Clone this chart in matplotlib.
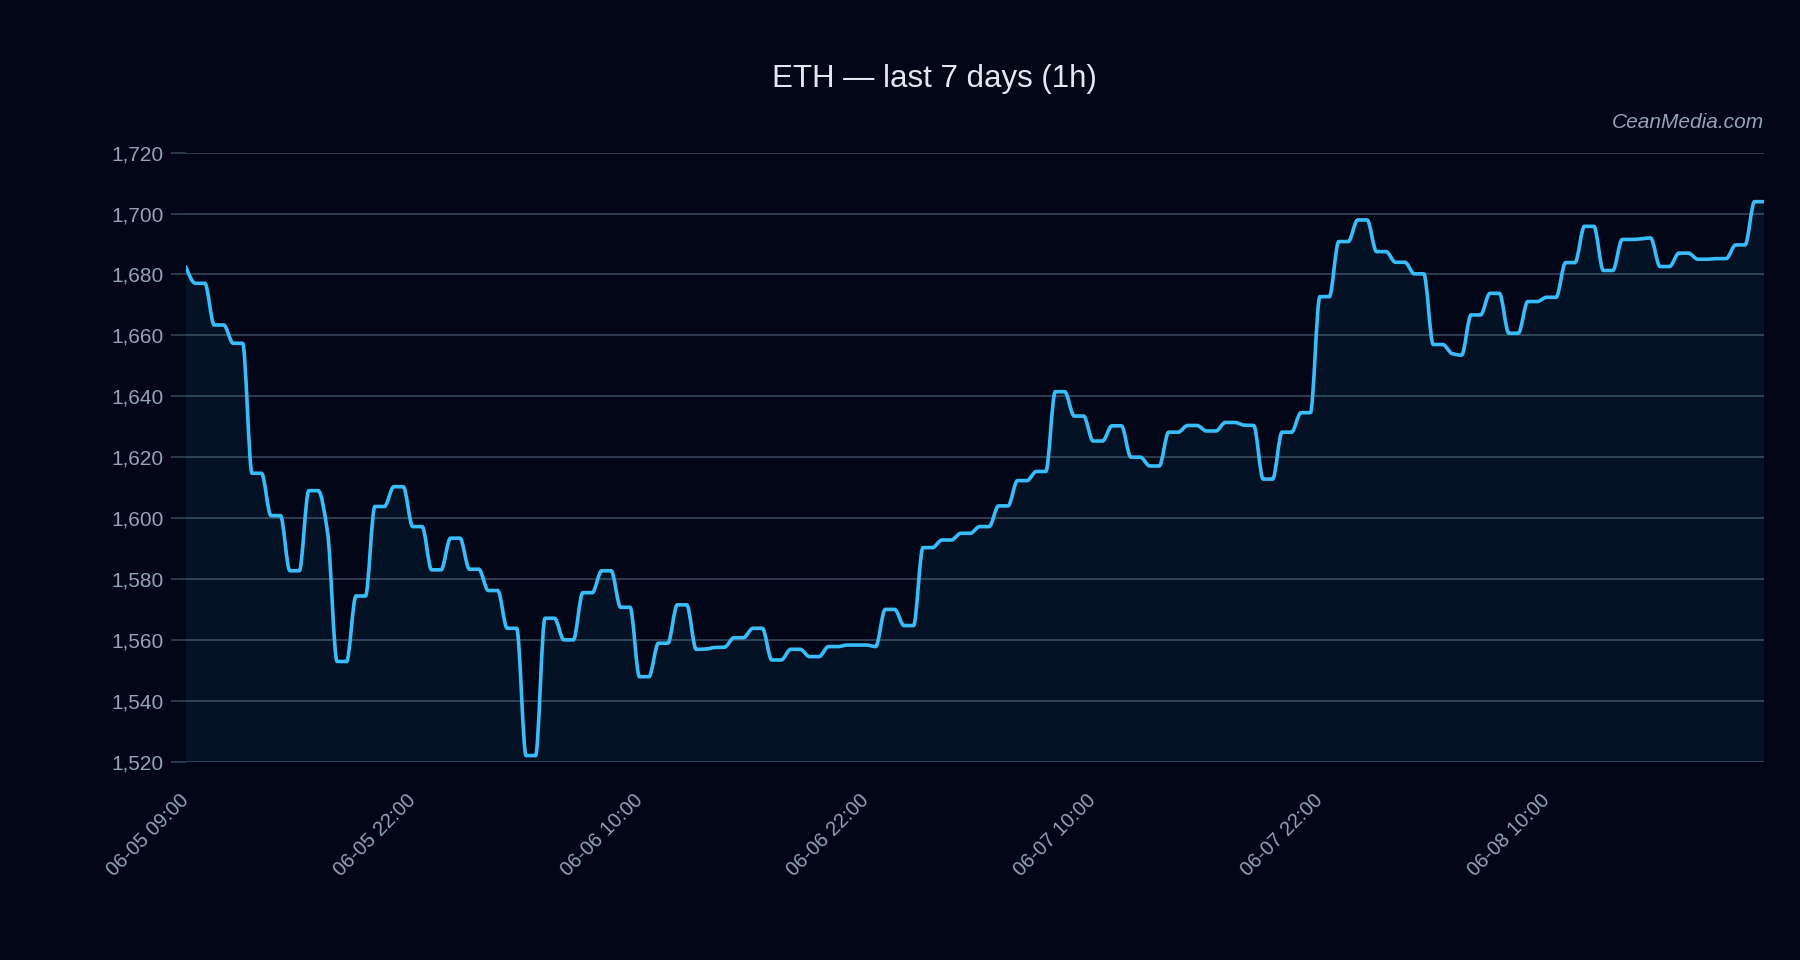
"""
ETH price, last 7 days (1h), dark theme line chart with soft area fill.
"""

import numpy as np
import matplotlib
matplotlib.use("Agg")
import matplotlib.pyplot as plt
from matplotlib.path import Path
from matplotlib.patches import PathPatch
from matplotlib.ticker import FuncFormatter

# --- data ----------------------------------------------------------------
prices = [
    1682.5, 1677.1, 1677.1, 1663.4, 1663.4, 1657.4, 1657.4, 1614.7, 1614.7, 1600.8,
    1600.8, 1582.7, 1582.7, 1609.0, 1609.0, 1595.0, 1552.9, 1552.9, 1574.4, 1574.4,
    1603.8, 1603.8, 1610.3, 1610.3, 1597.2, 1597.2, 1583.0, 1583.0, 1593.4, 1593.4,
    1583.2, 1583.2, 1576.2, 1576.2, 1563.8, 1563.8, 1522.0, 1522.0, 1567.1, 1567.1,
    1560.0, 1560.0, 1575.5, 1575.5, 1582.7, 1582.7, 1570.7, 1570.7, 1547.9, 1547.9,
    1558.9, 1558.9, 1571.5, 1571.5, 1556.9, 1557.0, 1557.5, 1557.6, 1560.7, 1560.7,
    1563.8, 1563.8, 1553.4, 1553.4, 1556.9, 1556.9, 1554.5, 1554.5, 1557.8, 1557.8,
    1558.3, 1558.3, 1558.3, 1557.8, 1570.0, 1570.0, 1564.7, 1564.7, 1590.3, 1590.3,
    1592.8, 1592.8, 1595.0, 1595.0, 1597.2, 1597.2, 1604.0, 1604.0, 1612.3, 1612.3,
    1615.3, 1615.3, 1641.5, 1641.5, 1633.5, 1633.5, 1625.3, 1625.3, 1630.3, 1630.3,
    1620.0, 1620.0, 1617.1, 1617.1, 1628.2, 1628.2, 1630.4, 1630.4, 1628.6, 1628.6,
    1631.4, 1631.4, 1630.5, 1630.4, 1612.8, 1612.8, 1628.2, 1628.2, 1634.6, 1634.6,
    1672.7, 1672.7, 1690.8, 1690.8, 1697.9, 1697.9, 1687.5, 1687.5, 1684.0, 1684.0,
    1680.2, 1680.2, 1657.0, 1657.0, 1654.0, 1653.5, 1666.7, 1666.7, 1673.8, 1673.8,
    1660.7, 1660.7, 1671.1, 1671.1, 1672.5, 1672.5, 1683.9, 1683.9, 1695.8, 1695.8,
    1681.3, 1681.3, 1691.5, 1691.5, 1691.7, 1692.0, 1682.6, 1682.6, 1687.0, 1687.0,
    1685.0, 1685.0, 1685.2, 1685.2, 1689.7, 1689.7, 1703.9, 1703.9,
]
tick_labels = [
    "06-05 09:00", "06-05 22:00", "06-06 10:00", "06-06 22:00",
    "06-07 10:00", "06-07 22:00", "06-08 10:00",
]
tick_every = 24
y_ticks = list(range(1520, 1721, 20))

title = "ETH \u2014 last 7 days (1h)"
watermark = "CeanMedia.com"

# --- colours --------------------------------------------------------------
BG = "#020617"
LINE = "#38bdf8"
GRID = "#334155"
TICK_TXT = "#94a3b8"
TITLE_TXT = "#e2e8f0"

plt.rcParams["font.family"] = ["Liberation Sans", "DejaVu Sans"]


def pchip_slopes(x, y):
    """Monotone (Fritsch-Carlson) slopes, same rules as scipy's PCHIP."""
    h = np.diff(x)
    delta = np.diff(y) / h
    d = np.zeros_like(y)
    for k in range(1, len(y) - 1):
        if delta[k - 1] * delta[k] > 0:
            w1 = 2 * h[k] + h[k - 1]
            w2 = h[k] + 2 * h[k - 1]
            d[k] = (w1 + w2) / (w1 / delta[k - 1] + w2 / delta[k])

    def edge(h0, h1, d0, d1):
        s = ((2 * h0 + h1) * d0 - h0 * d1) / (h0 + h1)
        if np.sign(s) != np.sign(d0):
            s = 0.0
        elif np.sign(d0) != np.sign(d1) and abs(s) > abs(3 * d0):
            s = 3 * d0
        return s

    d[0] = edge(h[0], h[1], delta[0], delta[1])
    d[-1] = edge(h[-1], h[-2], delta[-1], delta[-2])
    return d


def smooth_path(x, y, base=None):
    """Monotone cubic through the points as a bezier Path (optionally closed to base)."""
    d = pchip_slopes(x, y)
    verts = [(x[0], y[0])]
    codes = [Path.MOVETO]
    for i in range(len(x) - 1):
        hh = x[i + 1] - x[i]
        verts += [
            (x[i] + hh / 3, y[i] + d[i] * hh / 3),
            (x[i + 1] - hh / 3, y[i + 1] - d[i + 1] * hh / 3),
            (x[i + 1], y[i + 1]),
        ]
        codes += [Path.CURVE4] * 3
    if base is not None:
        verts += [(x[-1], base), (x[0], base), (x[0], y[0])]
        codes += [Path.LINETO, Path.LINETO, Path.CLOSEPOLY]
    return Path(verts, codes)


xs = np.arange(len(prices), dtype=float)
ys = np.array(prices, dtype=float)
y_min, y_max = y_ticks[0], y_ticks[-1]

fig = plt.figure(figsize=(18, 9.6), dpi=100, facecolor=BG)
ax = fig.add_axes([0.1033, 0.2066, 0.8767, 0.6344])
ax.set_facecolor(BG)

# area + line
ax.add_patch(PathPatch(smooth_path(xs, ys, base=y_min), facecolor=LINE,
                       alpha=0.07, edgecolor="none", zorder=2))
ax.add_patch(PathPatch(smooth_path(xs, ys), facecolor="none", edgecolor=LINE,
                       lw=2.6, capstyle="round", joinstyle="round", zorder=3))

ax.set_xlim(xs[0], xs[-1])
ax.set_ylim(y_min, y_max)

# axes styling
for s in ax.spines.values():
    s.set_visible(False)
ax.set_yticks(y_ticks)
ax.yaxis.set_major_formatter(FuncFormatter(lambda v, _: f"{v:,.0f}"))
ax.grid(axis="y", color=GRID, lw=1.3, zorder=1)
ax.set_axisbelow(True)
ax.tick_params(axis="y", colors=GRID, labelcolor=TICK_TXT, labelsize=15,
               length=11, width=1.2, pad=5)

ax.set_xticks(xs[::tick_every])
ax.set_xticklabels(tick_labels, rotation=45, ha="right", va="center",
                   rotation_mode="anchor")
ax.tick_params(axis="x", length=0, labelcolor=TICK_TXT, labelsize=14.5, pad=26)

# texts
fig.text(0.519, 0.918, title, ha="center", va="center", fontsize=22.5, color=TITLE_TXT)
ax.text(1.0, 1.05, watermark, transform=ax.transAxes, ha="right", va="center",
        fontsize=15, style="italic", color=TICK_TXT)

fig.savefig("out.png", dpi=100, facecolor=BG)
plt.close(fig)
